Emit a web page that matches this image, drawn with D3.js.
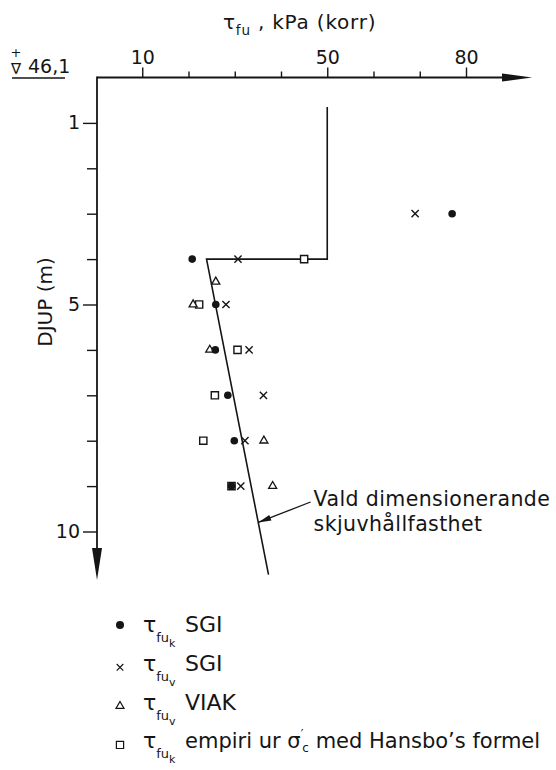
<!DOCTYPE html>
<html>
<head>
<meta charset="utf-8">
<script src="https://cdn.jsdelivr.net/npm/d3@7"></script>
<style>
body { margin: 0; background: #fff; }
text { font-family: "DejaVu Sans", sans-serif; fill: #151515; }
</style>
</head>
<body>
<script>
// tau_fu (kPa) against depth (m)
var sgiKDepth = [3, 4, 5, 6, 7, 8, 9];
var sgiKValue = [77.0, 20.8, 25.9, 25.8, 28.5, 29.9, 29.3];

var sgiVDepth = [3, 4, 5, 6, 7, 8, 9];
var sgiVValue = [69.0, 30.7, 28.1, 33.1, 36.2, 32.2, 31.3];

var viakDepth = [4.5, 5, 6, 8, 9];
var viakValue = [25.9, 21.0, 24.6, 36.3, 38.2];

var empDepth = [4, 5, 6, 7, 8, 9];
var empValue = [45.0, 22.3, 30.6, 25.7, 23.2, 29.3];

// chosen design strength
var designDepth = [0.65, 4, 4, 10.95];
var designValue = [50, 50, 23.9, 37.3];

var xTicks = [10, 20, 30, 40, 50, 60, 70, 80];
var xLabelled = [10, 50, 80];
var yTicks = [1, 2, 3, 4, 5, 6, 7, 8, 9, 10];
var yLabelled = [1, 5, 10];

var noteLines = ['Vald dimensionerande', 'skjuvhållfasthet'];
var noteTipDepth = 9.8;
var noteTail = {value: 46.4, depth: 9.35};

var W = 556, H = 770;
var ink = '#151515';

var svg = d3.select('body').append('svg')
	.attr('width', W)
	.attr('height', H)
	.style('background', '#fff');

var x = d3.scaleLinear().domain([0, 80]).range([96, 466]);
var y = d3.scaleLinear().domain([0, 10]).range([77.5, 531.5]);

var x0 = x(0) + 1, y0 = y(0);

// ---- axes
var xAxis = d3.axisTop(x)
	.tickValues(xTicks)
	.tickSize(6)
	.tickPadding(8)
	.tickFormat(function(d){ return xLabelled.indexOf(d) > -1 ? d : ''; });

var gx = svg.append('g')
	.attr('transform', 'translate(0,' + y0 + ')')
	.call(xAxis);
gx.select('.domain').remove();
gx.selectAll('line').attr('stroke', ink).attr('stroke-width', 1.4)
	.attr('y2', function(d){ return xLabelled.indexOf(d) > -1 ? -10 : -6; });
gx.selectAll('text').attr('font-size', 19).attr('fill', ink)
	.attr('font-family', '"DejaVu Sans", sans-serif');

var yAxis = d3.axisLeft(y)
	.tickValues(yTicks)
	.tickSize(10)
	.tickPadding(7)
	.tickFormat(function(d){ return yLabelled.indexOf(d) > -1 ? d : ''; });

var gy = svg.append('g')
	.attr('transform', 'translate(' + x0 + ',0)')
	.call(yAxis);
gy.select('.domain').remove();
gy.selectAll('line').attr('stroke', ink).attr('stroke-width', 1.4)
	.attr('x2', function(d){ return yLabelled.indexOf(d) > -1 ? -14 : -10; });
gy.selectAll('text').attr('font-size', 19).attr('fill', ink)
	.attr('font-family', '"DejaVu Sans", sans-serif');

// axis lines with arrows
svg.append('path')
	.attr('d', 'M' + x0 + ',' + y0 + ' L504,' + y0)
	.attr('stroke', ink).attr('stroke-width', 1.8).attr('fill', 'none');
svg.append('path')
	.attr('d', 'M502,' + (y0 - 4) + ' L532,' + y0 + ' L502,' + (y0 + 4) + ' Z')
	.attr('fill', ink);

svg.append('path')
	.attr('d', 'M' + x0 + ',' + (y0 - 1) + ' L' + x0 + ',550')
	.attr('stroke', ink).attr('stroke-width', 1.8).attr('fill', 'none');
svg.append('path')
	.attr('d', 'M' + (x0 - 5) + ',548 L' + x0 + ',580 L' + (x0 + 5) + ',548 Z')
	.attr('fill', ink);

// axis title
var title = svg.append('text')
	.attr('x', 223)
	.attr('y', 29)
	.attr('font-size', 20)
	.attr('letter-spacing', 0.8);
title.append('tspan').text('τ');
title.append('tspan').attr('font-size', 13.5).attr('dy', 6).text('fu');
title.append('tspan').attr('dy', -6).text(' , kPa (korr)');

svg.append('text')
	.attr('transform', 'translate(52,302) rotate(-90)')
	.attr('text-anchor', 'middle')
	.attr('font-size', 20)
	.text('DJUP (m)');

// level mark
svg.append('text').attr('x', 16).attr('y', 57).attr('font-size', 13)
	.attr('text-anchor', 'middle').text('+');
svg.append('text').attr('x', 16).attr('y', 74).attr('font-size', 15)
	.attr('text-anchor', 'middle').text('∇');
svg.append('text').attr('x', 28).attr('y', 73).attr('font-size', 19).text('46,1');
svg.append('line')
	.attr('x1', 12).attr('x2', 65).attr('y1', 78).attr('y2', 78)
	.attr('stroke', ink).attr('stroke-width', 1.3);

// ---- design line
var designPts = designDepth.map(function(d, i){ return [designValue[i], d]; });
var line = d3.line()
	.x(function(d){ return x(d[0]); })
	.y(function(d){ return y(d[1]); });

svg.append('path')
	.datum(designPts)
	.attr('d', line)
	.attr('fill', 'none')
	.attr('stroke', ink)
	.attr('stroke-width', 1.6);

// ---- markers
function crossPath(s){
	return 'M' + (-s) + ',' + (-s) + 'L' + s + ',' + s + 'M' + (-s) + ',' + s + 'L' + s + ',' + (-s);
}
var triPath = d3.symbol().type(d3.symbolTriangle).size(28)();
var sqPath = d3.symbol().type(d3.symbolSquare).size(52)();

function zipPts(depths, values){
	return depths.map(function(d, i){ return {d: d, v: values[i]}; });
}

svg.selectAll('.emp')
	.data(zipPts(empDepth, empValue))
	.enter().append('path')
	.attr('class', 'emp')
	.attr('d', sqPath)
	.attr('transform', function(p){ return 'translate(' + x(p.v) + ',' + y(p.d) + ')'; })
	.attr('fill', '#fff').attr('stroke', ink).attr('stroke-width', 1.4);

svg.selectAll('.viak')
	.data(zipPts(viakDepth, viakValue))
	.enter().append('path')
	.attr('class', 'viak')
	.attr('d', triPath)
	.attr('transform', function(p){ return 'translate(' + x(p.v) + ',' + y(p.d) + ')'; })
	.attr('fill', '#fff').attr('stroke', ink).attr('stroke-width', 1.3);

svg.selectAll('.sgiv')
	.data(zipPts(sgiVDepth, sgiVValue))
	.enter().append('path')
	.attr('class', 'sgiv')
	.attr('d', crossPath(3.6))
	.attr('transform', function(p){ return 'translate(' + x(p.v) + ',' + y(p.d) + ')'; })
	.attr('fill', 'none').attr('stroke', ink).attr('stroke-width', 1.4);

svg.selectAll('.sgik')
	.data(zipPts(sgiKDepth, sgiKValue))
	.enter().append('circle')
	.attr('class', 'sgik')
	.attr('cx', function(p){ return x(p.v); })
	.attr('cy', function(p){ return y(p.d); })
	.attr('r', 3.8)
	.attr('fill', ink);

// ---- annotation
var tipValue = d3.scaleLinear().domain([designDepth[2], designDepth[3]])
	.range([designValue[2], designValue[3]])(noteTipDepth);
var tx = x(tipValue), ty = y(noteTipDepth);
var ax = x(noteTail.value), ay = y(noteTail.depth);
svg.append('line')
	.attr('x1', ax).attr('y1', ay).attr('x2', tx).attr('y2', ty)
	.attr('stroke', ink).attr('stroke-width', 1.3);
var ang = Math.atan2(ty - ay, tx - ax) * 180 / Math.PI;
svg.append('path')
	.attr('d', 'M0,0 L-13,-3 L-13,3 Z')
	.attr('transform', 'translate(' + tx + ',' + ty + ') rotate(' + ang + ')')
	.attr('fill', ink);

svg.selectAll('.note')
	.data(noteLines)
	.enter().append('text')
	.attr('class', 'note')
	.attr('x', ax + 3)
	.attr('y', function(d, i){ return y(noteTail.depth) + 4 + i * 24.7; })
	.attr('font-size', 20.5)
	.attr('letter-spacing', 0.4)
	.text(function(d){ return d; });

// ---- legend
var legendRows = [
	{mark: 'dot', sub: 'k', label: 'SGI'},
	{mark: 'cross', sub: 'v', label: 'SGI'},
	{mark: 'tri', sub: 'v', label: 'VIAK'},
	{mark: 'sq', sub: 'k', label: null}
];
var legend = svg.append('g');
legendRows.forEach(function(r, i){
	var by = 632 + i * 38.8;
	var my = r.mark == 'dot' ? by - 7 : by - 3.5;
	if(r.mark == 'dot'){
		legend.append('circle').attr('cx', 120).attr('cy', my).attr('r', 4).attr('fill', ink);
	}
	else if(r.mark == 'cross'){
		legend.append('path').attr('d', crossPath(3.3))
			.attr('transform', 'translate(120,' + my + ')')
			.attr('stroke', ink).attr('stroke-width', 1.2).attr('fill', 'none');
	}
	else if(r.mark == 'tri'){
		legend.append('path').attr('d', triPath)
			.attr('transform', 'translate(120,' + my + ')')
			.attr('stroke', ink).attr('stroke-width', 1.2).attr('fill', '#fff');
	}
	else {
		legend.append('path').attr('d', sqPath)
			.attr('transform', 'translate(120,' + my + ')')
			.attr('stroke', ink).attr('stroke-width', 1.2).attr('fill', '#fff');
	}
	var t = legend.append('text').attr('x', 143).attr('y', by).attr('font-size', 22);
	t.append('tspan').text('τ');
	t.append('tspan').attr('font-size', 13).attr('dy', 10).text('fu');
	t.append('tspan').attr('font-size', 11).attr('dy', 5).text(r.sub);

	var lab = legend.append('text').attr('x', 185).attr('y', by).attr('font-size', 21);
	if(r.label){
		lab.attr('font-size', 22).text(r.label);
	}
	else {
		lab.append('tspan').text('empiri ur σ');
		lab.append('tspan').attr('font-size', 12).attr('dy', -10).text('′');
		lab.append('tspan').attr('font-size', 12).attr('dx', -1).attr('dy', 14).text('c');
		lab.append('tspan').attr('dy', -4).text(' med Hansbo’s formel');
	}
});
</script>
</body>
</html>
